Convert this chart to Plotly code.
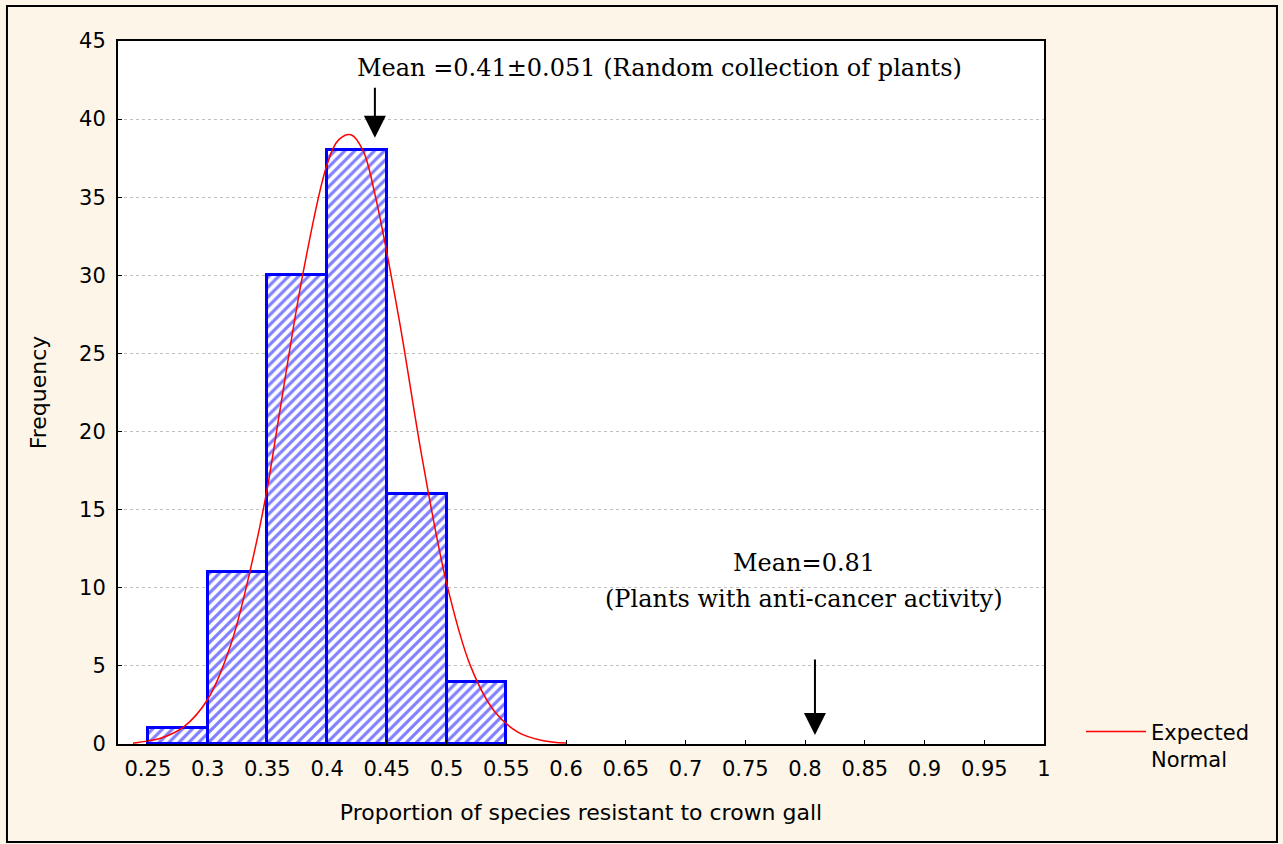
import plotly.graph_objects as go

# Histogram bins (left edges) and frequencies
bin_left = [0.25, 0.30, 0.35, 0.40, 0.45, 0.50]
bin_width = 0.05
freq = [1, 11, 30, 38, 16, 4]

# Expected normal curve
curve_x = [0.2375, 0.25, 0.26, 0.28, 0.30, 0.32, 0.34, 0.35, 0.36, 0.38, 0.40, 0.41, 0.42,
           0.43, 0.44, 0.46, 0.48, 0.50, 0.52, 0.54, 0.56, 0.58, 0.60]
curve_y = [0.05, 0.2, 0.35, 1.1, 2.85, 6.5, 12.6, 16.4, 21.1, 30.2, 37.1, 38.7, 39.0,
           38.0, 35.2, 27.3, 18.1, 10.3, 5.0, 2.1, 0.75, 0.23, 0.06]

x_ticks = [0.25, 0.3, 0.35, 0.4, 0.45, 0.5, 0.55, 0.6, 0.65, 0.7, 0.75, 0.8, 0.85, 0.9, 0.95, 1.0]
x_tick_labels = ["0.25", "0.3", "0.35", "0.4", "0.45", "0.5", "0.55", "0.6", "0.65", "0.7",
                 "0.75", "0.8", "0.85", "0.9", "0.95", "1"]
y_ticks = [0, 5, 10, 15, 20, 25, 30, 35, 40, 45]

mean_random_x = 0.44
mean_anticancer_x = 0.8083

bar_centers = [b + bin_width / 2 for b in bin_left]

fig = go.Figure()
fig.add_trace(go.Bar(
    x=bar_centers, y=freq, width=[bin_width] * len(freq),
    marker=dict(color="white",
                line=dict(color="#0000ff", width=3),
                pattern=dict(shape="/", fgcolor="#0000ff", bgcolor="white",
                             size=7, solidity=0.45)),
    showlegend=False, hoverinfo="x+y",
))
fig.add_trace(go.Scatter(
    x=curve_x, y=curve_y, mode="lines", line=dict(color="#ff0000", width=1.5, shape="spline"),
    name="Expected<br>Normal",
))

serif = "DejaVu Serif, serif"
sans = "DejaVu Sans, sans-serif"

fig.add_annotation(x=0.678, y=43.3, xref="x", yref="y", text="Mean =0.41±0.051 (Random collection of plants)",
                   showarrow=False, font=dict(family=serif, size=24, color="black"))
fig.add_annotation(x=mean_random_x, y=38.8, ax=mean_random_x, ay=42.1, xref="x", yref="y",
                   axref="x", ayref="y", text="", showarrow=True, arrowhead=2, arrowsize=2.2,
                   arrowwidth=2, arrowcolor="black")
fig.add_annotation(x=0.799, y=11.6, xref="x", yref="y", text="Mean=0.81",
                   showarrow=False, font=dict(family=serif, size=24, color="black"))
fig.add_annotation(x=0.799, y=9.3, xref="x", yref="y", text="(Plants with anti-cancer activity)",
                   showarrow=False, font=dict(family=serif, size=24, color="black"))
fig.add_annotation(x=mean_anticancer_x, y=0.58, ax=mean_anticancer_x, ay=5.5, xref="x", yref="y",
                   axref="x", ayref="y", text="", showarrow=True, arrowhead=2, arrowsize=2.2,
                   arrowwidth=2, arrowcolor="black")

# outer frame
fig.add_shape(type="rect", xref="paper", yref="paper", x0=-0.1199, x1=1.2516, y0=-0.1394, y1=1.0498,
              line=dict(color="black", width=2), layer="below")

fig.update_layout(
    width=1283, height=844,
    margin=dict(l=118, r=239, t=41, b=100),
    paper_bgcolor="#fcf5e8",
    plot_bgcolor="white",
    bargap=0,
    font=dict(family=sans, size=21, color="black"),
    legend=dict(x=1.04, y=-0.002, xanchor="left", yanchor="middle", bgcolor="rgba(0,0,0,0)",
                valign="top", itemwidth=60, font=dict(family=sans, size=21)),
    xaxis=dict(range=[0.225, 1.0], tickvals=x_ticks, ticktext=x_tick_labels,
               showgrid=False, zeroline=False, showline=True, linecolor="black", linewidth=2,
               mirror=True, ticks="inside", ticklen=4, tickcolor="black",
               ticklabelstandoff=5,
               tickfont=dict(family=sans, size=21),
               title=dict(text="Proportion of species resistant to crown gall",
                          font=dict(family=sans, size=22), standoff=24)),
    yaxis=dict(range=[0, 45], tickvals=y_ticks, showgrid=True, gridcolor="#c0c0c0",
               griddash="dot", gridwidth=1, zeroline=False, showline=True, linecolor="black",
               linewidth=2, mirror=True, ticks="inside", ticklen=4, tickcolor="black",
               ticklabelstandoff=6,
               tickfont=dict(family=sans, size=21),
               title=dict(text="Frequency", font=dict(family=sans, size=22), standoff=26)),
)

fig.write_html("out.html", post_script="document.body.style.margin='0';",
               config={"displayModeBar": False})
